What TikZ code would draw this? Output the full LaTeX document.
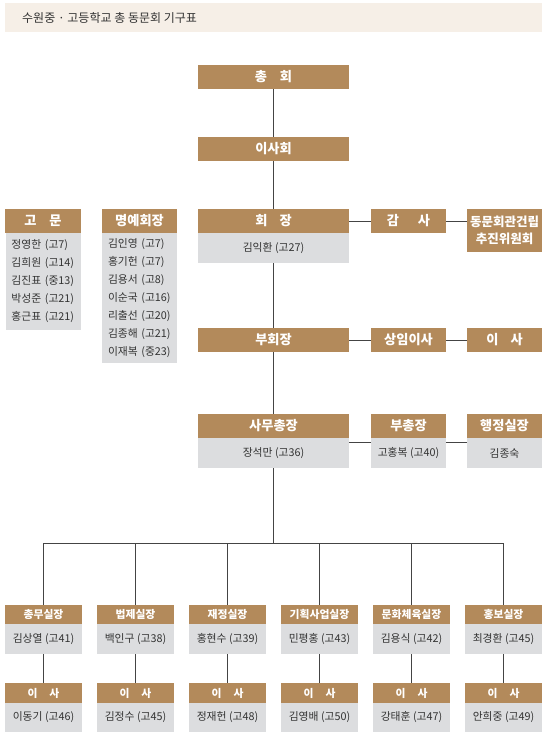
\documentclass[tikz,border=0pt]{standalone}
\usepackage{fontspec}
\newfontfamily\kr{Noto Sans CJK KR}
\definecolor{brn}{HTML}{B38A5B}
\definecolor{gry}{HTML}{DCDDDF}
\definecolor{lnc}{HTML}{444444}
\definecolor{band}{HTML}{F6EFE7}
\definecolor{txt}{HTML}{333333}
\begin{document}
\begin{tikzpicture}[x=1pt,y=-1pt,
  hdr/.style={fill=brn, text=white, font=\kr\bfseries\fontsize{13.2}{17}\selectfont, inner sep=0pt, minimum width=75pt, minimum height=24pt},
  wide/.style={minimum width=151pt},
  shdr/.style={hdr, font=\kr\bfseries\fontsize{10.8}{12}\selectfont, minimum width=77pt, minimum height=19.5pt},
  body/.style={fill=gry, text=txt, font=\kr\fontsize{10.8}{12}\selectfont, inner sep=0pt, minimum width=75pt, minimum height=30pt},
  list/.style={fill=gry, text=txt, font=\kr\fontsize{10.8}{18}\selectfont, inner xsep=6pt, inner ysep=0pt, text width=63pt, align=left},
  conn/.style={draw=lnc, line width=0.9pt}]
\useasboundingbox (0,0) rectangle (552,745);
\fill[band] (5,3) rectangle (542,32);
\node[anchor=west, text=txt, font=\kr\fontsize{12}{14}\selectfont, inner sep=0pt] (title) at (22,18) {수원중 · 고등학교 총 동문회 기구표};

% top chain
\node[hdr, wide] (chonghoe) at (273.5,77) {총\hspace{13pt}회};
\node[hdr, wide] (isahoe) at (273.5,149) {이사회};
\node[hdr, wide] (hoejang) at (273.5,221) {회\hspace{12pt}장};
\node[body, wide] (hoejangB) at (273.5,248) {김익환 (고27)};
\node[hdr] (gamsa) at (408.5,221) {감\hspace{19pt}사};
\node[hdr, minimum height=43pt, align=center, font=\kr\bfseries\fontsize{12.5}{17}\selectfont] (dongmun) at (504.5,230.5) {동문회관건립\\추진위원회};

% advisors
\node[hdr, minimum width=76pt] (gomun) at (43,221) {고\hspace{13pt}문};
\node[list, minimum height=97pt] (gomunB) at (43,281.5) {정영한 (고7)\\김희원 (고14)\\김진표 (중13)\\박성준 (고21)\\홍근표 (고21)};
\node[hdr] (myeong) at (139.5,221) {명예회장};
\node[list, minimum height=130pt] (myeongB) at (139.5,298) {김인영 (고7)\\홍기헌 (고7)\\김용서 (고8)\\이순국 (고16)\\리출선 (고20)\\김종해 (고21)\\이재복 (중23)};

% vice
\node[hdr, wide] (buhoe) at (273.5,340) {부회장};
\node[hdr] (sangim) at (408.5,340) {상임이사};
\node[hdr] (isa) at (504.5,340) {이\hspace{12pt}사};

% secretariat
\node[hdr, wide] (samu) at (273.5,426) {사무총장};
\node[body, wide] (samuB) at (273.5,453) {장석만 (고36)};
\node[hdr] (buchong) at (408.5,426) {부총장};
\node[body] (buchongB) at (408.5,453) {고홍복 (고40)};
\node[hdr] (haeng) at (504.5,426) {행정실장};
\node[body] (haengB) at (504.5,453) {김종숙};

% bottom departments
\node[shdr] (d1) at (43.5,614.5) {총무실장};
\node[body, minimum width=77pt] (d1B) at (43.5,639) {김상열 (고41)};
\node[shdr] (d2) at (135.5,614.5) {법제실장};
\node[body, minimum width=77pt] (d2B) at (135.5,639) {백인구 (고38)};
\node[shdr] (d3) at (227.5,614.5) {재정실장};
\node[body, minimum width=77pt] (d3B) at (227.5,639) {홍현수 (고39)};
\node[shdr] (d4) at (319.5,614.5) {기획사업실장};
\node[body, minimum width=77pt] (d4B) at (319.5,639) {민평홍 (고43)};
\node[shdr] (d5) at (411.5,614.5) {문화체육실장};
\node[body, minimum width=77pt] (d5B) at (411.5,639) {김용식 (고42)};
\node[shdr] (d6) at (503.5,614.5) {홍보실장};
\node[body, minimum width=77pt] (d6B) at (503.5,639) {최경환 (고45)};

\node[shdr, minimum height=20pt] (e1) at (43.5,693) {이\hspace{12pt}사};
\node[body, minimum width=77pt, minimum height=29pt] (e1B) at (43.5,717.5) {이동기 (고46)};
\node[shdr, minimum height=20pt] (e2) at (135.5,693) {이\hspace{12pt}사};
\node[body, minimum width=77pt, minimum height=29pt] (e2B) at (135.5,717.5) {김정수 (고45)};
\node[shdr, minimum height=20pt] (e3) at (227.5,693) {이\hspace{12pt}사};
\node[body, minimum width=77pt, minimum height=29pt] (e3B) at (227.5,717.5) {정재헌 (고48)};
\node[shdr, minimum height=20pt] (e4) at (319.5,693) {이\hspace{12pt}사};
\node[body, minimum width=77pt, minimum height=29pt] (e4B) at (319.5,717.5) {김영배 (고50)};
\node[shdr, minimum height=20pt] (e5) at (411.5,693) {이\hspace{12pt}사};
\node[body, minimum width=77pt, minimum height=29pt] (e5B) at (411.5,717.5) {강태훈 (고47)};
\node[shdr, minimum height=20pt] (e6) at (503.5,693) {이\hspace{12pt}사};
\node[body, minimum width=77pt, minimum height=29pt] (e6B) at (503.5,717.5) {안희중 (고49)};

% connectors
\draw[conn] (chonghoe.south) -- (isahoe.north);
\draw[conn] (isahoe.south) -- (hoejang.north);
\draw[conn] (hoejangB.south) -- (buhoe.north);
\draw[conn] (buhoe.south) -- (samu.north);
\draw[conn] (hoejang.east) -- (gamsa.west);
\draw[conn] (gamsa.east) -- (gamsa.east -| dongmun.west);
\draw[conn] (buhoe.east) -- (sangim.west);
\draw[conn] (sangim.east) -- (isa.west);
\draw[conn] ([yshift=-5pt]samuB.north east) -- ([yshift=-5pt]buchongB.north west);
\draw[conn] ([yshift=-5pt]buchongB.north east) -- ([yshift=-5pt]haengB.north west);
\coordinate (bus) at (273.5,543);
\draw[conn] (samuB.south) -- (bus);
\draw[conn] (d1.north |- bus) -- (d6.north |- bus);
\foreach \i in {1,...,6}{
  \draw[conn] (d\i.north |- bus) -- (d\i.north);
  \draw[conn] (d\i B.south) -- (e\i.north);
}
\end{tikzpicture}
\end{document}
